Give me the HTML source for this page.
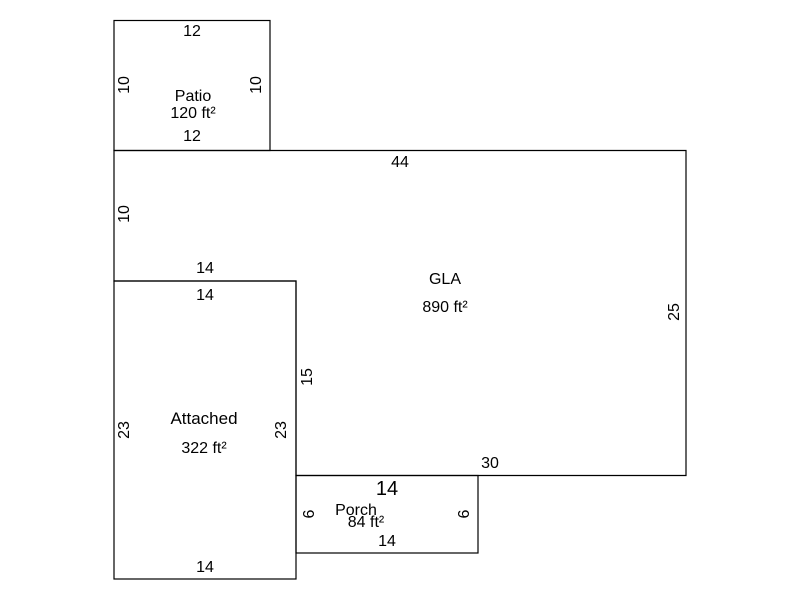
<!DOCTYPE html>
<html><head><meta charset="utf-8"><style>
html,body{margin:0;padding:0;background:#fff;width:800px;height:600px;overflow:hidden}
text{font-family:"Liberation Sans",Arial,sans-serif;font-size:16px;fill:#000}
</style></head><body>
<svg width="800" height="600" viewBox="0 0 800 600" xmlns="http://www.w3.org/2000/svg">
<g fill="none" stroke="#000" stroke-width="1.2">
<rect x="114" y="20.5" width="156" height="130"/>
<polygon points="114,150.5 686,150.5 686,475.5 296,475.5 296,281 114,281"/>
<rect x="114" y="281" width="182" height="298"/>
<rect x="296" y="475.5" width="182" height="77.5"/>
</g>
<g text-anchor="middle">
<text x="192" y="36">12</text>
<text x="192" y="141">12</text>
<text x="193" y="101">Patio</text>
<text x="193" y="118">120 ft²</text>
<text transform="translate(129,85) rotate(-90)">10</text>
<text transform="translate(261,85) rotate(-90)">10</text>
<text x="400" y="167">44</text>
<text x="205" y="273">14</text>
<text x="490" y="468">30</text>
<text x="445" y="284">GLA</text>
<text x="445" y="312">890 ft²</text>
<text transform="translate(129,214) rotate(-90)">10</text>
<text transform="translate(679,312) rotate(-90)">25</text>
<text transform="translate(312,377) rotate(-90)">15</text>
<text x="205" y="300">14</text>
<text x="205" y="572">14</text>
<text x="204" y="424" style="font-size:17px">Attached</text>
<text x="204" y="453">322 ft²</text>
<text transform="translate(129,430) rotate(-90)">23</text>
<text transform="translate(286,430) rotate(-90)">23</text>
<text x="387" y="495" style="font-size:20px">14</text>
<text x="387" y="546">14</text>
<text x="356" y="515">Porch</text>
<text x="366" y="527">84 ft²</text>
<text transform="translate(314,514) rotate(-90)">6</text>
<text transform="translate(469,514) rotate(-90)">6</text>
</g>
</svg>
</body></html>
